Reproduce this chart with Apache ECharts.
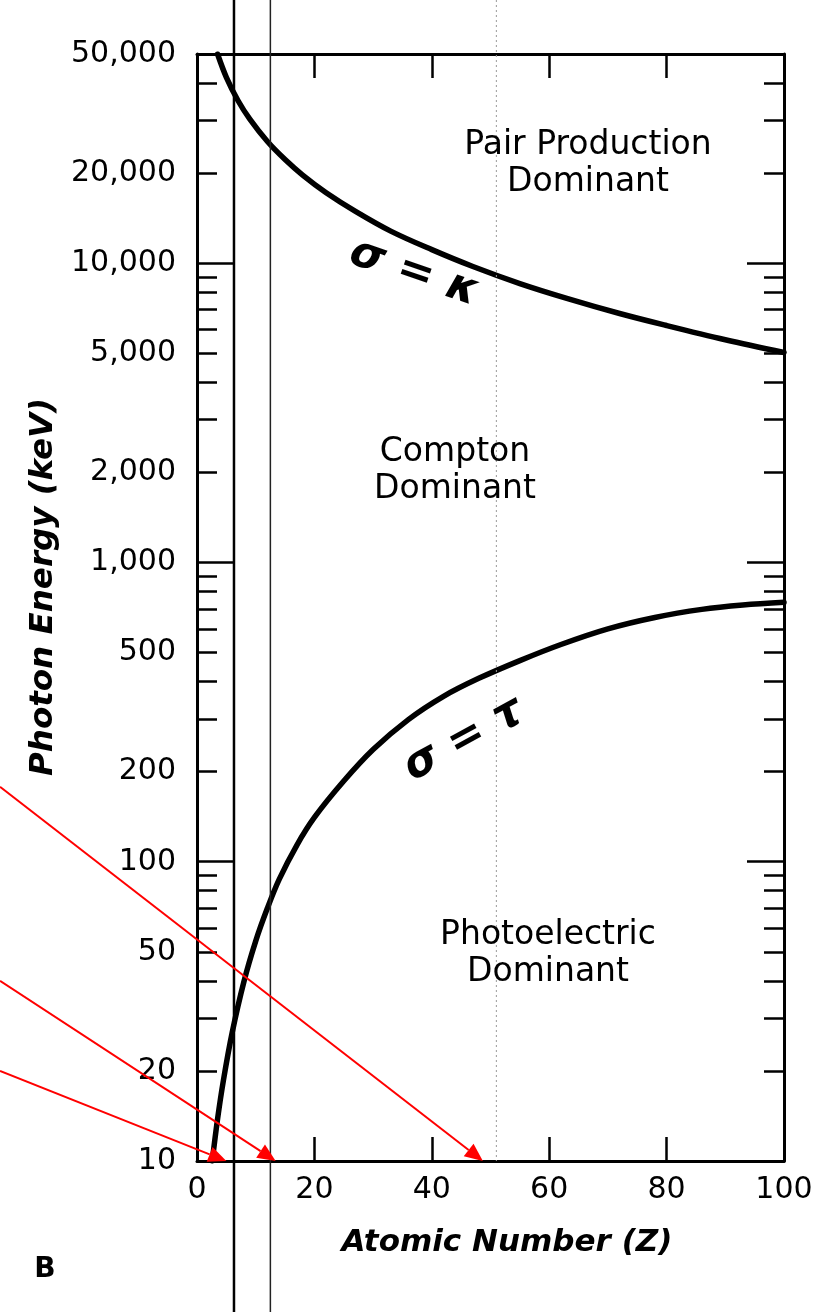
<!DOCTYPE html>
<html>
<head>
<meta charset="utf-8">
<script src="https://cdn.jsdelivr.net/npm/echarts@6/dist/echarts.min.js"></script>
<style>
html,body{margin:0;padding:0;background:#fff;}
#c{width:826px;height:1312px;}
</style>
</head>
<body>
<div id="c"></div>
<script>
// ---------- data ----------
const xTickValues = [0, 20, 40, 60, 80, 100];
const yLabelValues = [10, 20, 50, 100, 200, 500, 1000, 2000, 5000, 10000, 20000, 50000];
const yMajorTicks = [10, 100, 1000, 10000];
const yMinorTicks = [20, 30, 40, 50, 60, 70, 80, 90,
                     200, 300, 400, 500, 600, 700, 800, 900,
                     2000, 3000, 4000, 5000, 6000, 7000, 8000, 9000,
                     20000, 30000, 40000];

// sigma = kappa boundary (Compton = pair production)
const pairZ = [3.5, 5, 7, 9, 12, 15, 18, 22, 27, 33, 40, 47, 55, 63, 72, 80, 90, 100];
const pairE = [50000, 41800, 34900, 30300, 25500, 22200, 19700, 17200, 14900, 12800, 11100, 9750, 8550, 7630, 6790, 6190, 5550, 5030];

// sigma = tau boundary (Compton = photoelectric)
const photoZ = [2.6, 3.5, 4.5, 6, 8, 10, 12, 14, 17, 20, 25, 30, 36, 42, 48, 55, 62, 70, 78, 86, 93, 100];
const photoE = [10, 13.8, 18.6, 26.9, 39.8, 54.3, 70, 87.3, 113.5, 140.6, 186, 237, 298.5, 357, 410, 470, 532, 600, 655, 697, 721, 736];

const regionLabels = ['Pair Production\nDominant', 'Compton\nDominant', 'Photoelectric\nDominant'];
const curveLabels = ['σ = κ', 'σ = τ'];
const xAxisTitle = 'Atomic Number (Z)';
const yAxisTitle = 'Photon Energy (keV)';
const panelLetter = 'B';

// hand-drawn annotation marks
const arrowTargetZ = [5, 13.4, 48.7];
const arrowStartE = [20, 40, 178];
const refLineZ = [6.3, 12.5, 51];

// ---------- chart ----------
const logv = v => Math.log10(v);
const yMin = logv(10), yMax = logv(50000);
const FONT = 'DejaVu Sans';
const fmtY = v => Math.round(Math.pow(10, v)).toLocaleString('en-US');

const lineBlack = { color: '#000', width: 3 };
const tickStyle = { color: '#000', width: 2.5 };

function yAx(pos, ticks, len, withLabels, withLine) {
  return {
    type: 'value', position: pos, min: yMin, max: yMax,
    axisLine: { show: withLine, lineStyle: lineBlack },
    axisTick: { show: true, inside: true, length: len, customValues: ticks.map(logv), lineStyle: tickStyle },
    axisLabel: withLabels ? {
      show: true, customValues: yLabelValues.map(logv), formatter: fmtY,
      margin: 21, color: '#000', fontSize: 30, fontFamily: FONT
    } : { show: false },
    splitLine: { show: false }
  };
}
function xAx(pos, withLabels) {
  return {
    type: 'value', position: pos, min: 0, max: 100, interval: 20,
    axisLine: { show: true, lineStyle: lineBlack },
    axisTick: { show: true, inside: true, length: 24, lineStyle: tickStyle },
    axisLabel: withLabels ? {
      show: true, margin: 14, color: '#000', fontSize: 30, fontFamily: FONT,
      showMinLabel: true, showMaxLabel: true
    } : { show: false },
    splitLine: { show: false }
  };
}

const chart = echarts.init(document.getElementById('c'), null, { renderer: 'canvas' });
chart.setOption({
  animation: false,
  backgroundColor: '#fff',
  grid: { left: 197, right: 42, top: 54, bottom: 151, containLabel: false },
  xAxis: [xAx('bottom', true), xAx('top', false)],
  yAxis: [
    yAx('left', yMajorTicks, 37, true, true),
    yAx('left', yMinorTicks, 20, false, false),
    yAx('right', yMajorTicks, 37, false, true),
    yAx('right', yMinorTicks, 20, false, false)
  ],
  series: [
    {
      name: 'σ = κ', type: 'line', xAxisIndex: 0, yAxisIndex: 0,
      data: pairZ.map((z, i) => [z, logv(pairE[i])]),
      symbol: 'none', smooth: 0.35,
      lineStyle: { color: '#000', width: 5.5, cap: 'round', join: 'round' }, silent: true
    },
    {
      name: 'σ = τ', type: 'line', xAxisIndex: 0, yAxisIndex: 0,
      data: photoZ.map((z, i) => [z, logv(photoE[i])]),
      symbol: 'none', smooth: 0.35,
      lineStyle: { color: '#000', width: 5.5, cap: 'round', join: 'round' }, silent: true
    }
  ]
});

const P = (z, e) => chart.convertToPixel({ xAxisIndex: 0, yAxisIndex: 0 }, [z, logv(e)]);
const H = 1312;
const g = [];

// vertical reference lines
const refStyles = [
  { stroke: '#000', lineWidth: 2.5 },
  { stroke: '#222', lineWidth: 1.5 },
  { stroke: '#9a9a9a', lineWidth: 1, lineDash: [2, 3] }
];
const refEnds = [H, H, P(0, 10)[1]];
refLineZ.forEach((z, i) => {
  const x = P(z, 10)[0];
  g.push({ type: 'line', silent: true, z: 40, shape: { x1: x, y1: 0, x2: x, y2: refEnds[i] }, style: refStyles[i] });
});

// red arrows
arrowTargetZ.forEach((z, i) => {
  const end = P(z, 10);
  const sy = P(0, arrowStartE[i])[1];
  const sx = 0;
  const dx = end[0] - sx, dy = end[1] - sy;
  const L = Math.sqrt(dx * dx + dy * dy);
  const ux = dx / L, uy = dy / L;
  const hl = 18, hw = 8;
  const bx = end[0] - ux * hl, by = end[1] - uy * hl;
  g.push({ type: 'line', silent: true, z: 60, shape: { x1: sx, y1: sy, x2: bx, y2: by }, style: { stroke: '#ff0000', lineWidth: 2 } });
  g.push({ type: 'polygon', silent: true, z: 60, shape: { points: [[end[0], end[1]], [bx - uy * hw, by + ux * hw], [bx + uy * hw, by - ux * hw]] }, style: { fill: '#ff0000' } });
});

// region labels
const regionPos = [[588, 164], [455, 471], [548, 954]];
regionLabels.forEach((t, i) => {
  g.push({ type: 'text', silent: true, z: 70, x: regionPos[i][0], y: regionPos[i][1],
    style: { text: t, fontSize: 33, fontFamily: FONT, fill: '#000', align: 'center', verticalAlign: 'middle', lineHeight: 37 } });
});

// hand-written curve labels
const curvePos = [[414, 273, -0.33], [464, 740, 0.5]];
curveLabels.forEach((t, i) => {
  g.push({ type: 'text', silent: true, z: 70, x: curvePos[i][0], y: curvePos[i][1], rotation: curvePos[i][2],
    style: { text: t, fontSize: 44, fontWeight: 'bold', fontStyle: 'italic', fontFamily: FONT, fill: '#000', align: 'center', verticalAlign: 'middle' } });
});

// axis titles and panel letter
g.push({ type: 'text', silent: true, z: 70, x: 44, y: 587, rotation: Math.PI / 2,
  style: { text: yAxisTitle, fontSize: 32.5, fontWeight: 'bold', fontStyle: 'italic', fontFamily: FONT, fill: '#000', align: 'center', verticalAlign: 'middle' } });
g.push({ type: 'text', silent: true, z: 70, x: 507, y: 1243,
  style: { text: xAxisTitle, fontSize: 31, fontWeight: 'bold', fontStyle: 'italic', fontFamily: FONT, fill: '#000', align: 'center', verticalAlign: 'middle' } });
g.push({ type: 'text', silent: true, z: 70, x: 45, y: 1270,
  style: { text: panelLetter, fontSize: 28, fontWeight: 'bold', fontFamily: FONT, fill: '#000', align: 'center', verticalAlign: 'middle' } });

chart.setOption({ graphic: g });
</script>
</body>
</html>
